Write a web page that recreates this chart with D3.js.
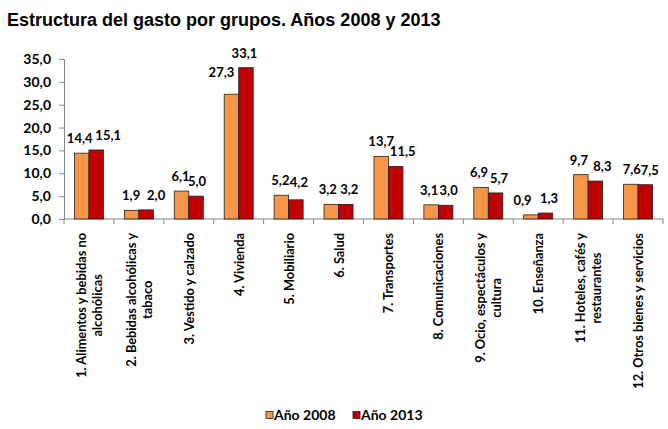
<!DOCTYPE html>
<html><head><meta charset="utf-8">
<script src="https://cdn.jsdelivr.net/npm/d3@7"></script>
<style>body{margin:0;background:#fff}svg{display:block}</style>
</head><body>
<svg id="c" width="668" height="429"></svg>
<script>
const categories = [
  ["1. Alimentos y bebidas no","alcohólicas"],
  ["2. Bebidas alcohólicas y","tabaco"],
  ["3. Vestido y calzado"],
  ["4. Vivienda"],
  ["5. Mobiliario"],
  ["6. Salud"],
  ["7. Transportes"],
  ["8. Comunicaciones"],
  ["9. Ocio, espectáculos y","cultura"],
  ["10. Enseñanza"],
  ["11. Hoteles, cafés y","restaurantes"],
  ["12. Otros bienes y servicios"]
];
const seriesNames = ["Año 2008","Año 2013"];
const values2008 = [14.4,1.9,6.1,27.3,5.2,3.2,13.7,3.1,6.9,0.9,9.7,7.6];
const values2013 = [15.1,2.0,5.0,33.1,4.2,3.2,11.5,3.0,5.7,1.3,8.3,7.5];
const yTicks = [0,5,10,15,20,25,30,35];
const colors = ["#F79646","#C00000"];

// layout: hand-placed data-label nudges (px) as in the reference
const labelDx = [
  [-2,-0.5,-1,-10,-1,-3.5,0,-2,-2,-8.5,-2,1],
  [12,10,1,-1.5,3,3.5,7,3,3.5,3.5,7,4.5]
];
const labelDy = [
  [0,0,0,-7,0,0,0,0,0,0,0,0],
  [0,0,0,0,-3,0,0,0,0,0,0,0]
];

const svg = d3.select("#c");
const fmt = v => d3.format(".1f")(v).replace(".", ",");
const x = d3.scaleBand().domain(d3.range(categories.length)).range([64,663]);
const y = d3.scaleLinear().domain([0,35]).range([219,59]);
const bw = 14.5;
const FONT = "Lato, sans-serif";

svg.append("text").attr("x",7).attr("y",26).attr("font-family","Liberation Sans, Arial").attr("font-weight","bold").attr("font-size",18).attr("fill","#000")
  .text("Estructura del gasto por grupos. Años 2008 y 2013");

// y axis
const ya = svg.append("g").attr("transform","translate(64,0)").call(d3.axisLeft(y).tickValues(yTicks).tickSize(5).tickFormat(fmt));
ya.select(".domain").attr("stroke","#868686");
ya.selectAll(".tick line").attr("stroke","#868686");
ya.selectAll("text").attr("font-family",FONT).attr("font-weight","bold").attr("font-size",14).attr("fill","#000").attr("x",-13);

// x axis
const xa = svg.append("g").attr("transform","translate(0,219)");
xa.append("line").attr("x1",64).attr("x2",663).attr("stroke","#868686");
xa.selectAll("line.t").data(d3.range(categories.length+1)).join("line")
  .attr("x1",i=>64+i*x.bandwidth()).attr("x2",i=>64+i*x.bandwidth()).attr("y1",0).attr("y2",5).attr("stroke","#868686");

const series = [values2008, values2013];
series.forEach((vals, s) => {
  svg.append("g").selectAll("rect").data(vals).join("rect")
    .attr("x",(d,i)=>x(i)+x.bandwidth()/2 - bw + s*bw)
    .attr("y",d=>y(d)).attr("width",bw).attr("height",d=>y(0)-y(d))
    .attr("fill",colors[s]).attr("stroke","#222").attr("stroke-width",0.8);
  svg.append("g").selectAll("text").data(vals).join("text")
    .attr("x",(d,i)=>x(i)+x.bandwidth()/2 - bw/2 + s*bw + labelDx[s][i])
    .attr("y",(d,i)=>y(d)-10+labelDy[s][i])
    .attr("text-anchor","middle").attr("font-family",FONT).attr("font-weight","bold").attr("font-size",13).attr("fill","#000")
    .text(fmt);
});

// category labels
const lineGap = 16;
categories.forEach((lines, i) => {
  const cx = x(i)+x.bandwidth()/2;
  const g = svg.append("g");
  const n = lines.length;
  const texts = lines.map((ln) => g.append("text")
    .attr("font-family",FONT).attr("font-weight","bold").attr("font-size",12.8).attr("fill","#000")
    .attr("text-anchor","middle").text(ln));
  const maxLen = d3.max(texts, t => t.node().getComputedTextLength());
  const cy = 233 + maxLen/2;
  texts.forEach((t, k) => {
    const lx = cx + (k - (n-1)/2)*lineGap + 5;
    t.attr("transform",`translate(${lx},${cy}) rotate(-90)`);
  });
});

// legend
const leg = svg.append("g");
const legX = [266, 353];
seriesNames.forEach((nm, s) => {
  leg.append("rect").attr("x",legX[s]).attr("y",411.5).attr("width",7).attr("height",7).attr("fill",colors[s]).attr("stroke","#222").attr("stroke-width",0.8);
  leg.append("text").attr("x",legX[s]+8).attr("y",420).attr("font-family",FONT).attr("font-weight","bold").attr("font-size",14).attr("fill","#000").text(nm);
});
</script>
</body></html>
